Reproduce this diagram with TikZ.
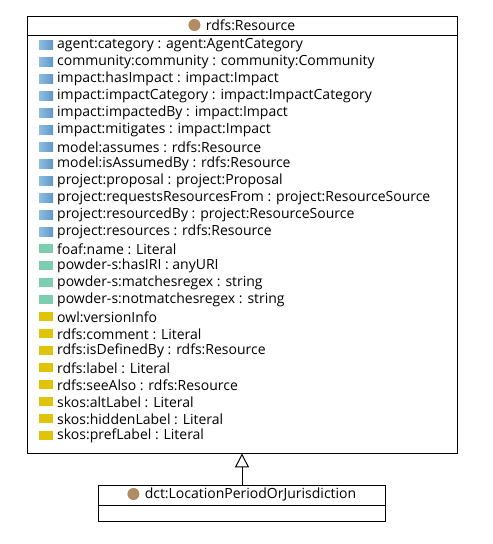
\documentclass[tikz,border=0pt]{standalone}
\usepackage{fontspec}
\setmainfont{Open Sans}
\usetikzlibrary{arrows.meta}
\definecolor{objblue}{RGB}{98,150,200}
\definecolor{objbluel}{RGB}{140,190,225}
\definecolor{datagreen}{RGB}{125,205,175}
\definecolor{annyellow}{RGB}{225,195,10}
\definecolor{classbrown}{RGB}{178,140,100}
\tikzset{
  umlbox/.style={draw, line width=0.8pt, inner sep=0pt, fill=white},
  attr/.style={anchor=west, inner sep=0pt, font=\fontsize{14}{16}\selectfont},
  ttl/.style={inner sep=0pt, font=\fontsize{14}{16}\selectfont},
  iconob/.style={left color=objbluel, right color=objblue, draw=none},
  icondt/.style={fill=datagreen, draw=none},
  iconan/.style={fill=annyellow, draw=none},
  classdot/.style={circle, fill=classbrown, inner sep=0pt, minimum size=12pt},
}
\begin{document}
\begin{tikzpicture}[x=1pt,y=-1pt]
\useasboundingbox[fill=white] (0,0) rectangle (493,544);
\node[umlbox, minimum width=430pt, minimum height=437pt] (res) at (242,234.5) {};
\draw[line width=0.8pt] (27,35) -- (457,35);
\node[ttl] (rest) at (250.5,25) {rdfs:Resource};
\node[classdot, anchor=east] (resd) at ([xshift=-5pt]rest.west) {};
\foreach \t/\s [count=\i from 0] in {
 agent:category : agent:AgentCategory/iconob,
 community:community : community:Community/iconob,
 impact:hasImpact : impact:Impact/iconob,
 impact:impactCategory : impact:ImpactCategory/iconob,
 impact:impactedBy : impact:Impact/iconob,
 impact:mitigates : impact:Impact/iconob,
 model:assumes : rdfs:Resource/iconob,
 model:isAssumedBy : rdfs:Resource/iconob,
 project:proposal : project:Proposal/iconob,
 project:requestsResourcesFrom : project:ResourceSource/iconob,
 project:resourcedBy : project:ResourceSource/iconob,
 project:resources : rdfs:Resource/iconob,
 foaf:name : Literal/icondt,
 powder-s:hasIRI : anyURI/icondt,
 powder-s:matchesregex : string/icondt,
 powder-s:notmatchesregex : string/icondt,
 owl:versionInfo/iconan,
 rdfs:comment : Literal/iconan,
 rdfs:isDefinedBy : rdfs:Resource/iconan,
 rdfs:label : Literal/iconan,
 rdfs:seeAlso : rdfs:Resource/iconan,
 skos:altLabel : Literal/iconan,
 skos:hiddenLabel : Literal/iconan,
 skos:prefLabel : Literal/iconan}{
  \path[\s] (39,{40+17*\i}) rectangle (53,{49+17*\i});
  \node[attr] (a\i) at (57,{45+17*\i}) {\t};
}
\node[umlbox, minimum width=287pt, minimum height=36pt] (loc) at (242,503) {};
\draw[line width=0.8pt] (98.5,505) -- (385.5,505);
\node[ttl] (loct) at (250.5,494) {dct:LocationPeriodOrJurisdiction};
\node[classdot, anchor=east] (locd) at ([xshift=-5pt]loct.west) {};
\draw[line width=1pt, -{Triangle[open, width=14pt, length=14pt]}] (loc.north) -- (res.south);
\end{tikzpicture}
\end{document}
